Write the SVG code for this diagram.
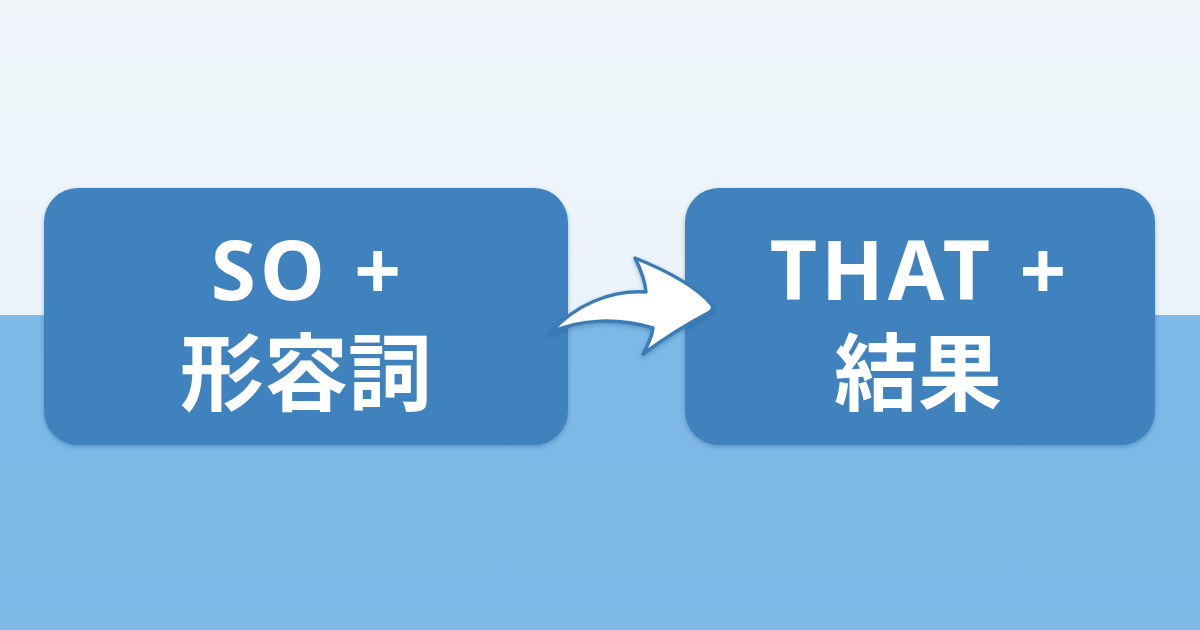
<svg xmlns="http://www.w3.org/2000/svg" width="1200" height="630" viewBox="0 0 1200 630">
  <defs>
    <linearGradient id="sky" x1="0" y1="0" x2="0" y2="1">
      <stop offset="0" stop-color="#f0f6fa"/>
      <stop offset="1" stop-color="#eaf3f9"/>
    </linearGradient>
    <linearGradient id="floor" x1="0" y1="0" x2="0" y2="1">
      <stop offset="0" stop-color="#7db8e6"/>
      <stop offset="1" stop-color="#80bae7"/>
    </linearGradient>
    <filter id="sh" x="-10%" y="-10%" width="120%" height="130%">
      <feDropShadow dx="0" dy="2" stdDeviation="2" flood-color="#1d4f80" flood-opacity="0.35"/>
    </filter>
  </defs>
  <style>
    .box { fill: #3f82be; }
    .lat { font-family: "Noto Sans", "Liberation Sans", sans-serif; font-weight: 700; fill: #ffffff; text-anchor: middle; font-size: 82px; letter-spacing: 4px; }
    .cjk { font-family: "Noto Sans CJK JP", "Noto Sans CJK SC", sans-serif; font-weight: 700; fill: #ffffff; text-anchor: middle; font-size: 84px; }
    .arrow { fill: #ffffff; stroke: #3a7cb8; stroke-width: 3.5; stroke-linejoin: round; }
  </style>
  <rect x="0" y="0" width="1200" height="315" fill="url(#sky)"/>
  <rect x="0" y="315" width="1200" height="315" fill="url(#floor)"/>

  <g id="node-so">
    <rect class="box" x="44" y="188" width="524" height="257" rx="34" filter="url(#sh)"/>
    <text class="lat" x="308" y="300">SO +</text>
    <text class="cjk" x="306" y="404">形容詞</text>
  </g>

  <g id="node-that">
    <rect class="box" x="685" y="188" width="470" height="257" rx="34" filter="url(#sh)"/>
    <text class="lat" x="920" y="300">THAT +</text>
    <text class="cjk" x="918" y="404">結果</text>
  </g>

  <g id="connectors">
    <path class="arrow" filter="url(#sh)" d="M 550,333 C 575,305 610,290 646,292 C 645,280 640,268 635,258 C 665,270 695,285 712,305 Q 714,310 708,313 C 685,325 662,340 643,354 C 648,345 652,337 653,328 C 620,318 580,318 550,333 Z"/>
  </g>
</svg>
